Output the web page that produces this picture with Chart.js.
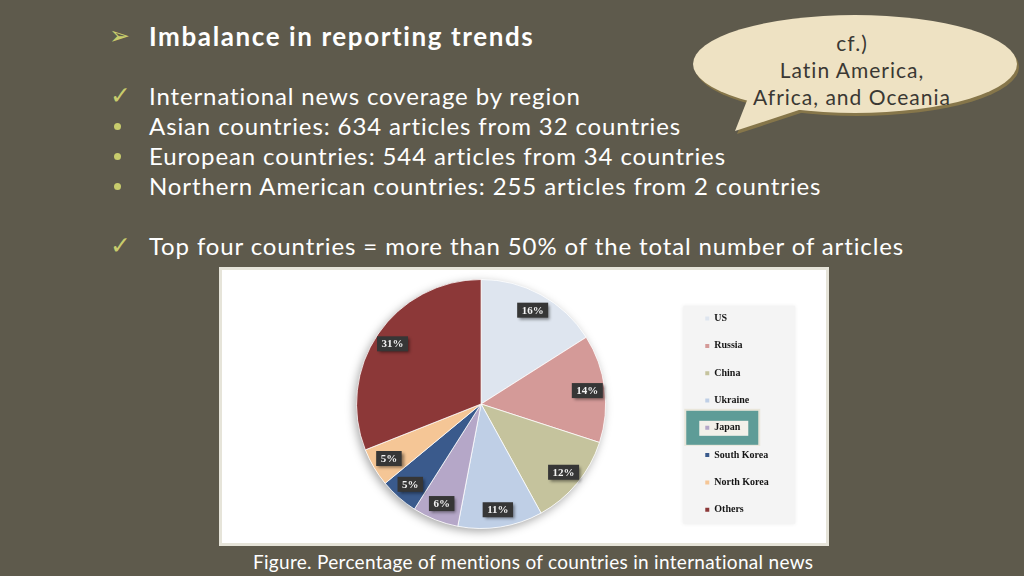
<!DOCTYPE html>
<html>
<head>
<meta charset="utf-8">
<script src="https://cdn.jsdelivr.net/npm/chart.js@4.4.1/dist/chart.umd.min.js"></script>
<style>
html,body{margin:0;padding:0;}
body{width:1024px;height:576px;background:#5e5a4c;position:relative;overflow:hidden;font-family:Lato,"Open Sans",sans-serif;color:#ffffff;}
.t{position:absolute;white-space:nowrap;font-size:24px;line-height:30px;left:149px;letter-spacing:0.88px;}
.mk{position:absolute;color:#c8cc6c;font-family:"DejaVu Sans",sans-serif;line-height:30px;}
.dot{position:absolute;width:7px;height:7px;border-radius:50%;background:#c8cc6c;left:114px;}
#frameOuter{position:absolute;left:219px;top:267px;width:610px;height:279px;background:#e6e4d9;}
#frameInner{position:absolute;left:222px;top:270px;width:604px;height:273px;background:#ffffff;}
#chartBox{position:absolute;left:220px;top:268px;width:608px;height:277px;}
#caption{position:absolute;left:253px;top:550px;font-size:19px;line-height:24px;white-space:nowrap;letter-spacing:0.3px;}
#bubble{position:absolute;left:0;top:0;}
.bt{position:absolute;width:300px;left:702px;text-align:center;font-size:21px;line-height:26px;color:#3a3833;white-space:nowrap;letter-spacing:1px;}
</style>
</head>
<body>
<svg id="bubble" width="1024" height="160">
  <g transform="translate(2,3)" fill="#86764a">
    <ellipse cx="855" cy="64" rx="162" ry="49"/>
    <path d="M748,98 L735,131 L805,108 Z"/>
  </g>
  <g fill="#eee2c3">
    <ellipse cx="855" cy="64" rx="162" ry="49"/>
    <path d="M748,98 L735,131 L805,108 Z"/>
  </g>
</svg>
<div class="bt" style="top:30px;">cf.)</div>
<div class="bt" style="top:57px;">Latin America,</div>
<div class="bt" style="top:84px;">Africa, and Oceania</div>

<div class="mk" style="left:109px;top:21px;font-size:25px;">&#10146;</div>
<div class="t" style="top:21px;font-weight:bold;font-size:26px;letter-spacing:1.6px;">Imbalance in reporting trends</div>

<div class="mk" style="left:110px;top:81px;font-size:25px;">&#10003;</div>
<div class="t" style="top:81px;">International news coverage by region</div>
<div class="dot" style="top:123px;"></div>
<div class="t" style="top:111px;">Asian countries: 634 articles from 32 countries</div>
<div class="dot" style="top:153px;"></div>
<div class="t" style="top:141px;">European countries: 544 articles from 34 countries</div>
<div class="dot" style="top:183px;"></div>
<div class="t" style="top:171px;">Northern American countries: 255 articles from 2 countries</div>

<div class="mk" style="left:110px;top:231px;font-size:25px;">&#10003;</div>
<div class="t" style="top:231px;">Top four countries = more than 50% of the total number of articles</div>

<div id="frameOuter"></div>
<div id="frameInner"></div>
<div id="chartBox"><canvas id="c" width="608" height="277"></canvas></div>
<div id="caption">Figure. Percentage of mentions of countries in international news</div>

<script>
const categories = ['US', 'Russia', 'China', 'Ukraine', 'Japan', 'South Korea', 'North Korea', 'Others'];
const shares = [16, 14, 12, 11, 6, 5, 5, 31];
const sliceColors = ['#dee5ef', '#d49a98', '#c5c39d', '#bfcfe6', '#b5a7c8', '#3a5a8c', '#f5c696', '#8c3838'];
const highlightedCategory = 'Japan';

const legendNudge = {
  id: 'legendNudge',
  afterLayout(chart) {
    const lg = chart.legend;
    if (!lg) return;
    lg.top += 3;
    lg.bottom += 3;
  }
};

const legendPanel = {
  id: 'legendPanel',
  beforeDraw(chart) {
    const lg = chart.legend;
    if (!lg || !lg.legendHitBoxes || !lg.legendHitBoxes.length) return;
    const hb = lg.legendHitBoxes;
    const ctx = chart.ctx;
    let minL = Infinity;
    hb.forEach(h => { minL = Math.min(minL, h.left); });
    const top = hb[0].top - 8, bottom = hb[hb.length - 1].top + hb[hb.length - 1].height + 9;
    ctx.save();
    ctx.shadowColor = 'rgba(0,0,0,0.08)';
    ctx.shadowBlur = 4;
    ctx.fillStyle = '#f4f4f4';
    ctx.fillRect(minL - 22, top, 112, bottom - top);
    ctx.restore();
    const idx = categories.indexOf(highlightedCategory);
    if (idx >= 0) {
      const h = hb[idx];
      ctx.save();
      ctx.fillStyle = '#e9e6da';
      ctx.fillRect(h.left - 21, h.top - 14, 76, 37);
      ctx.fillStyle = '#5e9c97';
      ctx.fillRect(h.left - 19, h.top - 12, 72, 34);
      ctx.fillStyle = '#f3f1ea';
      ctx.fillRect(h.left - 6, h.top - 2, 49, 15);
      ctx.restore();
    }
  }
};

const pieShadow = {
  id: 'pieShadow',
  beforeDatasetsDraw(chart) {
    const arc = chart.getDatasetMeta(0).data[0];
    if (!arc) return;
    const ctx = chart.ctx;
    ctx.save();
    ctx.shadowColor = 'rgba(0,0,0,0.35)';
    ctx.shadowBlur = 10;
    ctx.shadowOffsetX = -2;
    ctx.shadowOffsetY = 3;
    ctx.fillStyle = '#ffffff';
    ctx.beginPath();
    ctx.arc(arc.x, arc.y, arc.outerRadius, 0, Math.PI * 2);
    ctx.fill();
    ctx.restore();
  }
};

const sliceLabels = {
  id: 'sliceLabels',
  afterDatasetsDraw(chart) {
    const ctx = chart.ctx;
    const meta = chart.getDatasetMeta(0);
    ctx.save();
    ctx.font = 'bold 11px "Liberation Serif", serif';
    ctx.textAlign = 'center';
    ctx.textBaseline = 'middle';
    meta.data.forEach((arc, i) => {
      const mid = (arc.startAngle + arc.endAngle) / 2;
      const r = arc.outerRadius * 0.86;
      const x = arc.x + Math.cos(mid) * r;
      const y = arc.y + Math.sin(mid) * r;
      const txt = shares[i] + '%';
      const w = ctx.measureText(txt).width + 9, h = 15;
      ctx.shadowColor = 'rgba(0,0,0,0.45)';
      ctx.shadowBlur = 3;
      ctx.shadowOffsetX = 2;
      ctx.shadowOffsetY = 2;
      ctx.fillStyle = '#363636';
      ctx.fillRect(x - w / 2, y - h / 2, w, h);
      ctx.shadowColor = 'transparent';
      ctx.shadowBlur = 0; ctx.shadowOffsetX = 0; ctx.shadowOffsetY = 0;
      ctx.fillStyle = '#f2f2f2';
      ctx.fillText(txt, x, y + 0.5);
    });
    ctx.restore();
  }
};

const baseGen = (Chart.overrides.pie && Chart.overrides.pie.plugins && Chart.overrides.pie.plugins.legend && Chart.overrides.pie.plugins.legend.labels.generateLabels)
  || Chart.overrides.doughnut.plugins.legend.labels.generateLabels;

new Chart(document.getElementById('c'), {
  type: 'pie',
  data: {
    labels: categories,
    datasets: [{
      data: shares,
      backgroundColor: sliceColors,
      borderColor: 'rgba(255,255,255,0.75)',
      borderWidth: 1
    }]
  },
  options: {
    responsive: false,
    animation: false,
    layout: { padding: { left: 54.2, right: 49.2, top: 11, bottom: 16 } },
    plugins: {
      legend: {
        position: 'right',
        align: 'end',
        labels: {
          boxWidth: 4,
          boxHeight: 4,
          padding: 17.3,
          color: '#151515',
          font: { family: '"Liberation Serif", serif', size: 10, weight: 'bold' },
          generateLabels(chart) {
            const items = baseGen(chart);
            items.forEach(it => { it.lineWidth = 0; it.strokeStyle = 'rgba(0,0,0,0)'; });
            return items;
          }
        }
      },
      tooltip: { enabled: false }
    }
  },
  plugins: [legendNudge, legendPanel, pieShadow, sliceLabels]
});
</script>
</body>
</html>
